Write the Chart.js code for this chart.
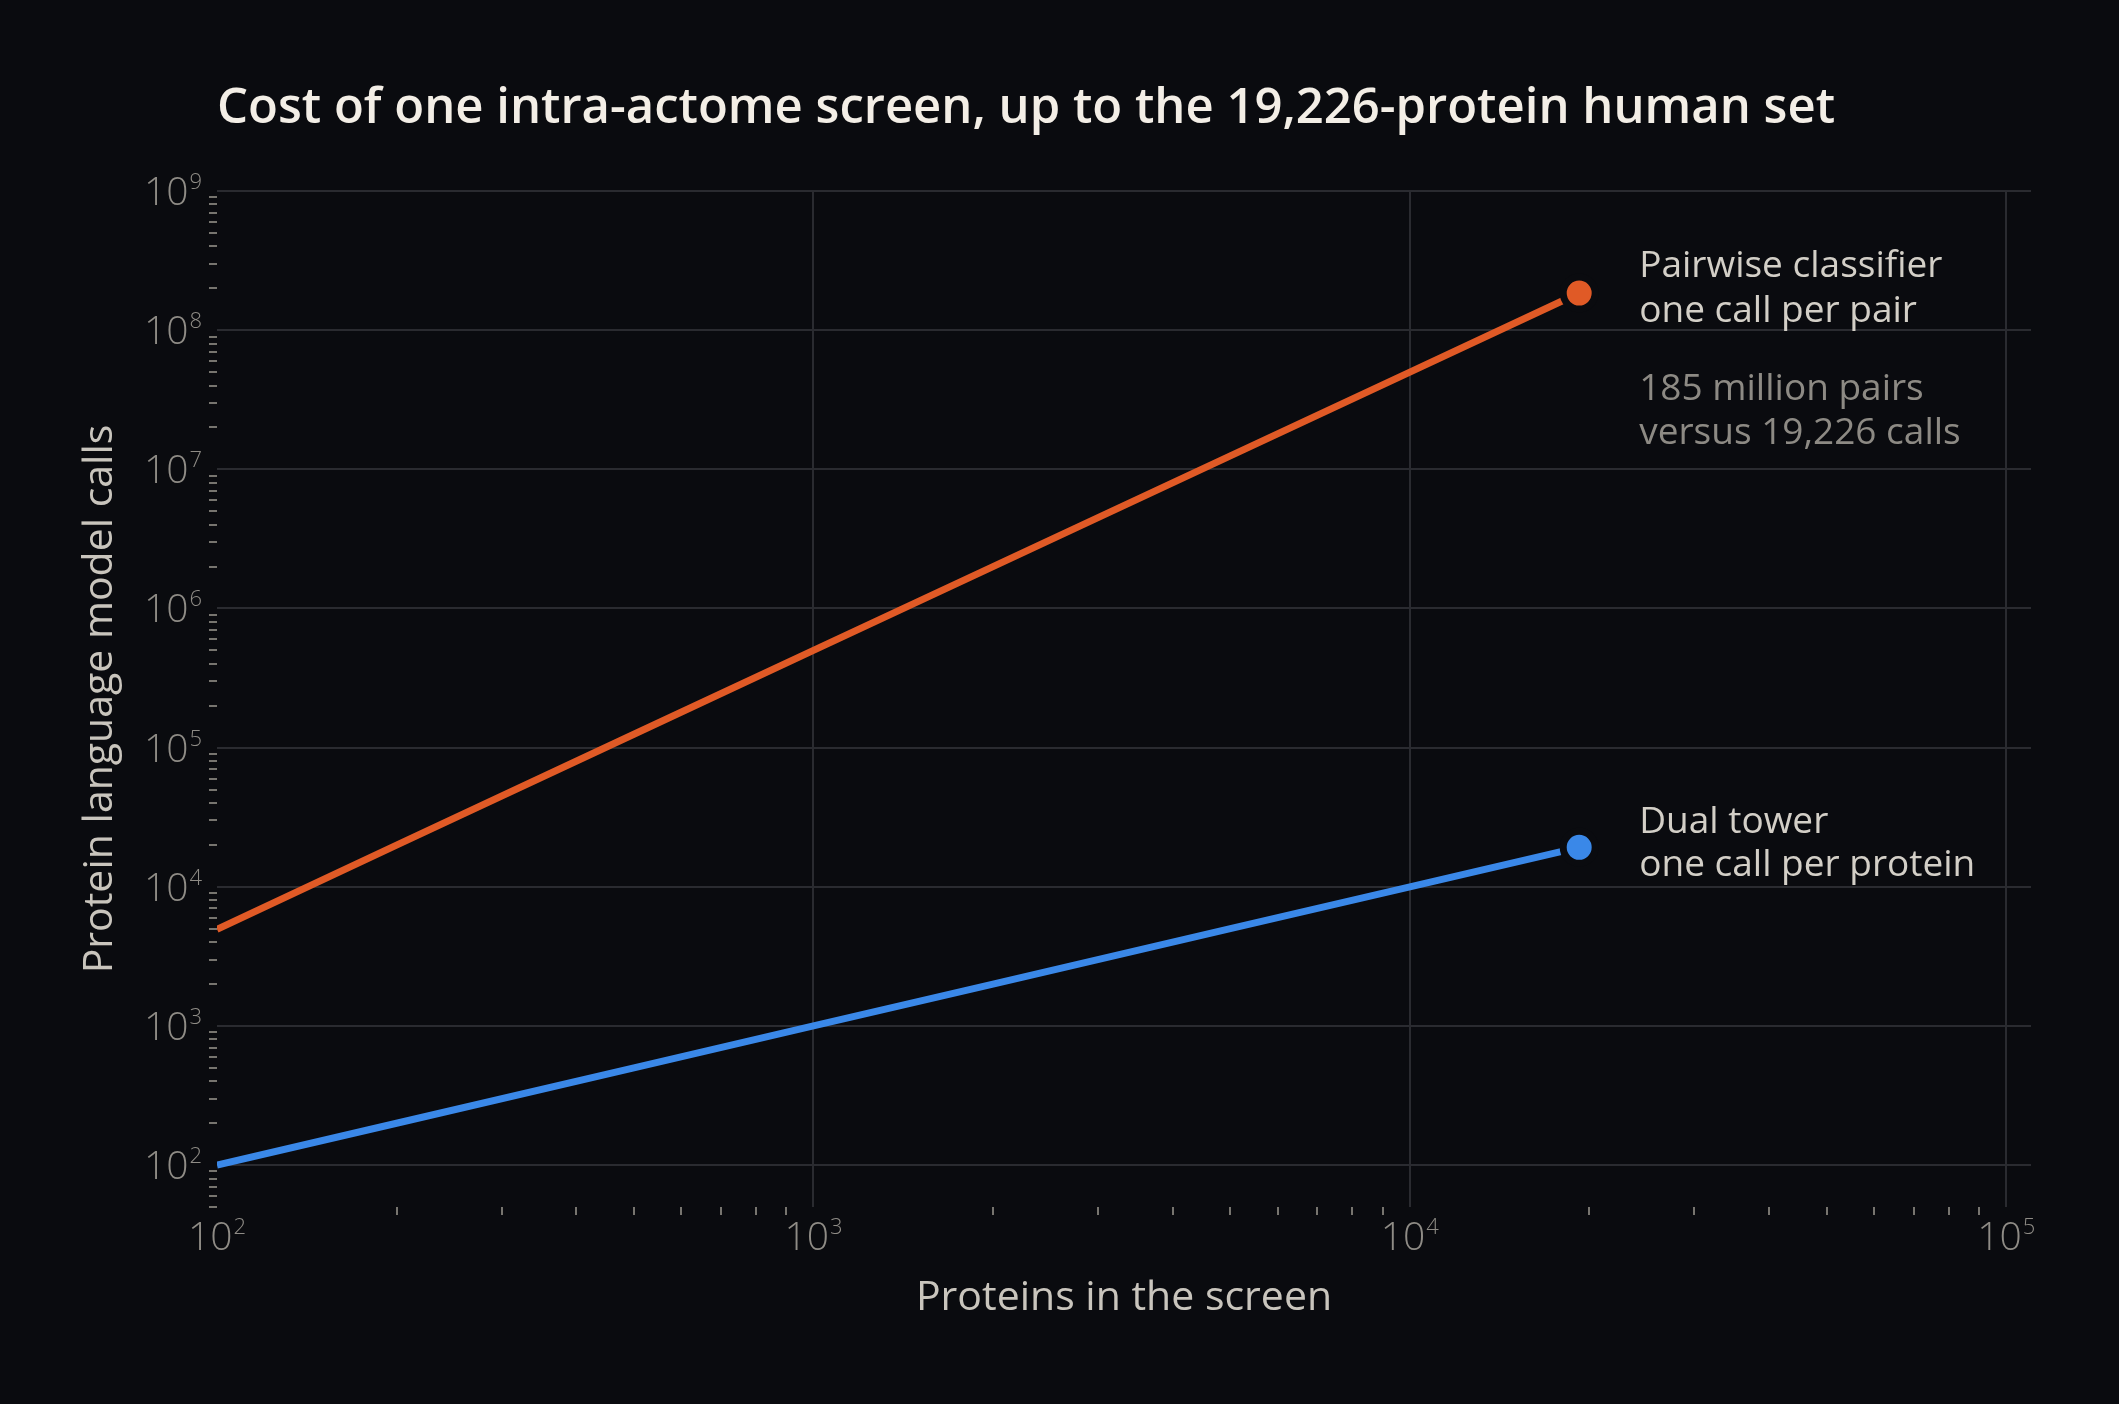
<!DOCTYPE html>
<html lang="en">
  <head>
    <title>Cost of one intra-actome screen</title>
    <meta charset="utf-8">
    <script src="https://cdn.jsdelivr.net/npm/chart.js@4.4.1/dist/chart.umd.min.js"></script>
    <style>
      html, body { margin: 0; padding: 0; background: #0a0b0f; }
      #wrap { position: relative; width: 2119px; height: 1404px; }
    </style>
  </head>
  <body>
    <div id="wrap">
        <canvas id="costChart" width="2119" height="1404"></canvas>
    </div>
  <script>
    // screen sizes (proteins) and calls
    var proteins       = [100, 200, 500, 1000, 2000, 5000, 10000, 19226];
    var pairwiseCalls  = [4950, 19900, 124750, 499500, 1999000, 12497500, 49995000, 184811000];
    var dualTowerCalls = [100, 200, 500, 1000, 2000, 5000, 10000, 19226];

    var xDecades = [2, 3, 4, 5];
    var yDecades = [2, 3, 4, 5, 6, 7, 8, 9];

    var chartTitle = 'Cost of one intra-actome screen, up to the 19,226-protein human set';
    var xTitle = 'Proteins in the screen';
    var yTitle = 'Protein language model calls';
    var pairLabel = ['Pairwise classifier', 'one call per pair'];
    var pairNote = ['185 million pairs', 'versus 19,226 calls'];
    var towerLabel = ['Dual tower', 'one call per protein'];

    var BG = '#0a0b0f';
    var ORANGE = '#e05a26';
    var BLUE = '#3a88e8';
    var GRID = '#2a2b30';
    var TICK = '#77756f';
    var FONT = '"Open Sans", "Noto Sans", sans-serif';

    function isMajor(v) {
        var l = Math.log10(v);
        return Math.abs(l - Math.round(l)) < 1e-9;
    }
    function keepLogTicks(scale) {
        scale.ticks = scale.ticks.filter(function(t) {
            var e = Math.floor(Math.log10(t.value) + 1e-9);
            var s = t.value / Math.pow(10, e);
            return Math.abs(s - Math.round(s)) < 1e-6;
        });
    }
    function pts(ys) {
        return proteins.map(function(p, i) { return {x: p, y: ys[i]}; });
    }
    function endRadius(r) {
        return proteins.map(function(_, i) { return i === proteins.length - 1 ? r : 0; });
    }

    // draw 10^n labels, title and the annotations next to the end points
    var decorations = {
        id: 'decorations',
        afterDraw: function(chart) {
            var ctx = chart.ctx;
            var xs = chart.scales.x, ys = chart.scales.y;
            ctx.save();

            ctx.fillStyle = '#f3eee6';
            ctx.font = '600 49px ' + FONT;
            ctx.textAlign = 'left';
            ctx.textBaseline = 'alphabetic';
            ctx.fillText(chartTitle, 217, 123);

            function powLabel(exp, cx, cy, anchor) {
                ctx.font = '300 39px ' + FONT;
                var w1 = ctx.measureText('10').width;
                ctx.font = '300 22px ' + FONT;
                var w2 = ctx.measureText(String(exp)).width;
                var left = anchor === 'center' ? cx - (w1 + w2 + 1) / 2 : cx - (w1 + w2 + 1);
                var base = cy + 14;
                ctx.fillStyle = '#8f8c86';
                ctx.textAlign = 'left';
                ctx.font = '300 39px ' + FONT;
                ctx.fillText('10', left, base);
                ctx.font = '300 22px ' + FONT;
                ctx.fillText(String(exp), left + w1 + 1, base - 16);
            }
            xDecades.forEach(function(d) {
                powLabel(d, xs.getPixelForValue(Math.pow(10, d)), 1236, 'center');
            });
            yDecades.forEach(function(d) {
                powLabel(d, 202, ys.getPixelForValue(Math.pow(10, d)), 'right');
            });

            var last = proteins.length - 1;
            var ox = xs.getPixelForValue(proteins[last]);
            var oy = ys.getPixelForValue(pairwiseCalls[last]);
            var by = ys.getPixelForValue(dualTowerCalls[last]);
            ctx.textAlign = 'left';
            ctx.textBaseline = 'middle';
            ctx.font = '400 37px ' + FONT;
            ctx.fillStyle = '#d3cfc7';
            ctx.fillText(pairLabel[0], ox + 60, oy - 27);
            ctx.fillText(pairLabel[1], ox + 60, oy + 18);
            ctx.fillText(towerLabel[0], ox + 60, by - 25);
            ctx.fillText(towerLabel[1], ox + 60, by + 18);
            ctx.fillStyle = '#8d8a84';
            ctx.fillText(pairNote[0], ox + 60, oy + 96);
            ctx.fillText(pairNote[1], ox + 60, oy + 140);
            ctx.restore();
        }
    };

    var ctx = document.getElementById('costChart').getContext('2d');
    var costChart = new Chart(ctx, {
        type: 'line',
        data: {
            datasets: [{
                label: 'Pairwise classifier',
                data: pts(pairwiseCalls),
                borderColor: ORANGE,
                backgroundColor: ORANGE,
                borderWidth: 7,
                fill: false,
                tension: 0,
                pointRadius: endRadius(16),
                pointHoverRadius: endRadius(16),
                pointBackgroundColor: ORANGE,
                pointBorderColor: BG,
                pointBorderWidth: 7
            }, {
                label: 'Dual tower',
                data: pts(dualTowerCalls),
                borderColor: BLUE,
                backgroundColor: BLUE,
                borderWidth: 7,
                fill: false,
                tension: 0,
                pointRadius: endRadius(16),
                pointHoverRadius: endRadius(16),
                pointBackgroundColor: BLUE,
                pointBorderColor: BG,
                pointBorderWidth: 7
            }]
        },
        options: {
            responsive: false,
            devicePixelRatio: 1,
            animation: false,
            events: [],
            layout: { padding: { top: 191, right: 88, bottom: 0, left: 0 } },
            plugins: { legend: { display: false }, tooltip: { enabled: false } },
            scales: {
                x: {
                    type: 'logarithmic',
                    min: 100,
                    max: 110000,
                    border: { display: false },
                    afterBuildTicks: keepLogTicks,
                    afterFit: function(s) { s.height = 197; },
                    ticks: { display: false },
                    grid: {
                        lineWidth: 2,
                        color: function(c) {
                            var v = c.tick && c.tick.value;
                            return v && isMajor(v) && v !== 100 ? GRID : 'rgba(0,0,0,0)';
                        },
                        tickColor: function(c) {
                            var v = c.tick && c.tick.value;
                            return v && !isMajor(v) ? TICK : 'rgba(0,0,0,0)';
                        },
                        tickLength: 8,
                        tickWidth: 2
                    },
                    title: {
                        display: true,
                        text: xTitle,
                        color: '#c9c5bd',
                        font: { family: FONT, size: 41, weight: '400' },
                        padding: { top: 0, bottom: 81 }
                    }
                },
                y: {
                    type: 'logarithmic',
                    min: 50,
                    max: 1e9,
                    border: { display: false },
                    afterBuildTicks: keepLogTicks,
                    afterFit: function(s) { s.width = 217; },
                    ticks: { display: false },
                    grid: {
                        lineWidth: 2,
                        color: function(c) {
                            var v = c.tick && c.tick.value;
                            return v && isMajor(v) ? GRID : 'rgba(0,0,0,0)';
                        },
                        tickColor: function(c) {
                            var v = c.tick && c.tick.value;
                            return v && !isMajor(v) ? TICK : 'rgba(0,0,0,0)';
                        },
                        tickLength: 8,
                        tickWidth: 2
                    },
                    title: {
                        display: true,
                        text: yTitle,
                        color: '#c9c5bd',
                        font: { family: FONT, size: 41, weight: '400' },
                        padding: { top: 76, bottom: 0 }
                    }
                }
            }
        },
        plugins: [decorations]
    });
  </script>
  </body>
</html>
